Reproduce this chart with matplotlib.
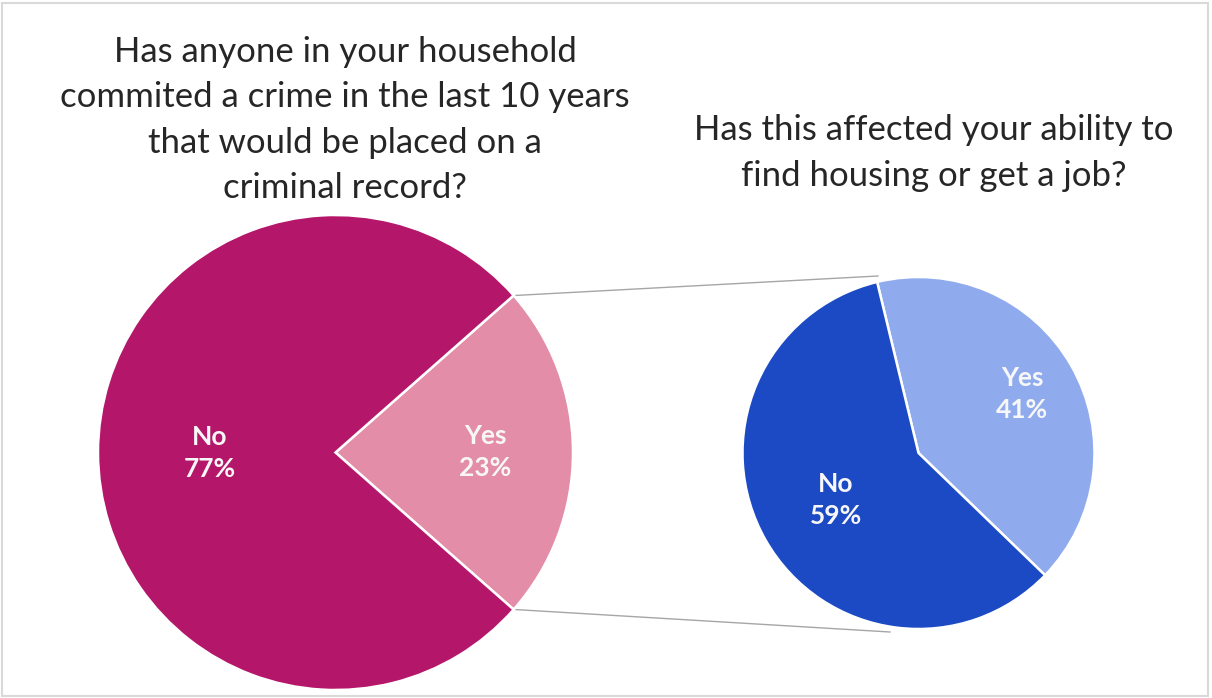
import matplotlib
matplotlib.use("Agg")
import matplotlib.pyplot as plt
from matplotlib.patches import Rectangle
import numpy as np

plt.rcParams['font.family'] = ['Lato', 'DejaVu Sans']

# ---- data ----
left_labels = ["Yes", "No"]
left_values = [23, 77]
right_labels = ["Yes", "No"]
right_values = [41, 59]
left_title = "Has anyone in your household\ncommited a crime in the last 10 years\nthat would be placed on a\ncriminal record?"
right_title = "Has this affected your ability to\nfind housing or get a job?"

left_colors = ["#E38DA8", "#B4166A"]
right_colors = ["#8FABEE", "#1B4AC4"]

W, H = 1212, 698
fig = plt.figure(figsize=(W / 100, H / 100), dpi=100)
ax = fig.add_axes([0, 0, 1, 1])

# geometry (pixel-like data coords, y up)
lc, lr = (335.5, H - 452.5), 237.5
rc, rr = (918.5, H - 453.0), 176.0

wl, _ = ax.pie(left_values, colors=left_colors, center=lc, radius=lr,
               startangle=-left_values[0] * 1.8, counterclock=True, frame=True,
               wedgeprops=dict(edgecolor="white", linewidth=1.8))
wr, _ = ax.pie(right_values, colors=right_colors, center=rc, radius=rr,
               startangle=-44, counterclock=True, frame=True,
               wedgeprops=dict(edgecolor="white", linewidth=1.8))

def put_labels(wedges, labels, values, center, radius, fracs):
    for w, lab, v, f in zip(wedges, labels, values, fracs):
        ang = np.deg2rad((w.theta1 + w.theta2) / 2)
        x = center[0] + f * radius * np.cos(ang)
        y = center[1] + f * radius * np.sin(ang)
        ax.text(x, y, f"{lab}\n{v}%", ha="center", va="center", color="#F7F7F7",
                fontsize=19, fontweight="bold", linespacing=1.4)

put_labels(wl, left_labels, left_values, lc, lr, [0.63, 0.53])
put_labels(wr, right_labels, right_values, rc, rr, [0.68, 0.54])

# connector lines (from Yes wedge edges of left pie to right pie)
yes = wl[0]
for th, (rx, ry) in [(yes.theta2, (878, H - 276)), (yes.theta1, (890, H - 632))]:
    a = np.deg2rad(th)
    x0 = lc[0] + lr * np.cos(a)
    y0 = lc[1] + lr * np.sin(a)
    ax.plot([x0 + 2, rx], [y0, ry], color="#A6A6A6", lw=1.0, zorder=0.5)

ax.text(345, H - 120, left_title, ha="center", va="center", fontsize=25,
        color="#262626", linespacing=1.52)
ax.text(934, H - 153, right_title, ha="center", va="center", fontsize=25,
        color="#262626", linespacing=1.52)

ax.set_xlim(0, W)
ax.set_ylim(0, H)
ax.set_aspect("equal")
ax.axis("off")

fig.patches.append(Rectangle((0.002, 0.003), 0.995, 0.993, transform=fig.transFigure,
                             fill=False, edgecolor="#D9D9D9", linewidth=1.5))

fig.savefig("out.png", dpi=100)
